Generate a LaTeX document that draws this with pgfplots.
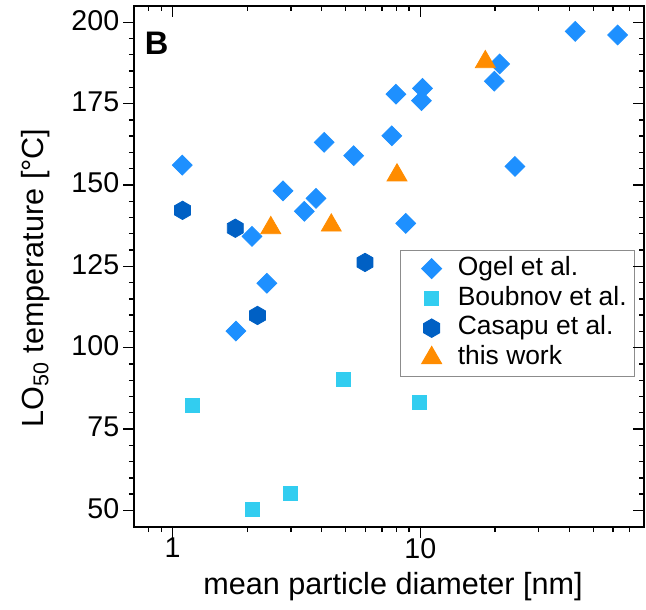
\documentclass[border=0pt]{standalone}
\usepackage{fontspec}
\setmainfont{Liberation Sans}
\usepackage{pgfplots}
\pgfplotsset{compat=1.18}
\definecolor{ogel}{RGB}{30,144,255}
\definecolor{boub}{RGB}{50,205,240}
\definecolor{casa}{RGB}{0,96,196}
\definecolor{twork}{RGB}{255,140,0}
\pgfdeclareplotmark{hexagon*}{%
 \pgfpathmoveto{\pgfqpointpolar{90}{\pgfplotmarksize}}%
 \pgfpathlineto{\pgfqpointpolar{150}{\pgfplotmarksize}}%
 \pgfpathlineto{\pgfqpointpolar{210}{\pgfplotmarksize}}%
 \pgfpathlineto{\pgfqpointpolar{270}{\pgfplotmarksize}}%
 \pgfpathlineto{\pgfqpointpolar{330}{\pgfplotmarksize}}%
 \pgfpathlineto{\pgfqpointpolar{30}{\pgfplotmarksize}}%
 \pgfpathclose
 \pgfusepathqfillstroke}
\begin{document}
\begin{tikzpicture}
\begin{axis}[xmode=log, xmin=0.7, xmax=80, ymin=45, ymax=205,
  scale only axis, width=254.85pt, height=260.35pt,
  xtick={1,10}, minor xtick={0.8,0.9,2,3,4,5,6,7,8,9,20,30,40,50,60,70},
  ytick={50,75,...,200}, minor y tick num=4,
  major tick length=5.5pt, minor tick length=2.75pt,
  every tick/.append style={black, line width=0.7pt},
  axis line style={line width=1pt},
  tick align=outside, xtick pos=left, ytick pos=left,
  xticklabels={1,10},
  /pgf/number format/assume math mode=true,
  tick label style={font=\fontsize{14.3}{17}\selectfont},
  xticklabel style={anchor=north, inner sep=0pt},
  yticklabel style={anchor=east, inner xsep=1.9pt, inner ysep=0pt, yshift=1pt},
  label style={font=\fontsize{15.3}{18}\selectfont},
  xlabel={mean particle diameter [nm]},
  ylabel={LO\textsubscript{50} temperature [°C]},
  xlabel style={at={(rel axis cs:0.5076,-0.1312)}, anchor=base, inner sep=0pt},
  ylabel style={at={(rel axis cs:-0.1785,0.4776)}, anchor=base, inner sep=0pt},
  legend cell align=left,
  legend style={at={(rel axis cs:0.522,0.5314)}, anchor=north west,
    draw=black!45, line width=0.5pt, font=\fontsize{13.2}{15}\selectfont,
    inner xsep=4pt, inner ysep=1.6pt, row sep=0pt, column sep=1.7pt,
    nodes={inner xsep=0pt, inner ysep=1.15pt, text height=9.7pt, text depth=2.9pt},
    row 4/.style={nodes={text depth=5.4pt}}},
  legend image code/.code={\path (0pt,0pt) (22.3pt,0pt); \draw plot coordinates {(11.15pt,0pt)};},
]
\addplot[only marks, mark=square*, mark size=3.5pt, mark options={rotate=45}, color=ogel] coordinates {
(1.093,156.1) (42.2,197.2) (62.6,196.1) (20.9,187.2) (19.9,181.9)
(7.97,177.9) (10.2,179.7) (10.1,175.9) (7.67,165.1) (4.09,163.1)
(5.38,159.0) (24.1,155.7) (2.79,148.2) (3.79,145.9) (3.40,141.9)
(8.73,138.2) (2.09,134.2) (2.40,119.8) (1.80,105.1)};
\addlegendentry{Ogel et al.}
\addplot[only marks, mark=square*, mark size=3.5pt, color=boub] coordinates {
(1.20,82.2) (4.89,90.2) (9.93,83.1) (2.99,55.1) (2.09,50.2)};
\addlegendentry{Boubnov et al.}
\addplot[only marks, mark=hexagon*, mark size=4.6pt, color=casa] coordinates {
(1.096,142.2) (1.79,136.7) (5.98,126.2) (2.20,109.9)};
\addlegendentry{Casapu et al.}
\addplot[only marks, mark=triangle*, mark size=5.75pt, color=twork] coordinates {
(18.3,187.8) (8.05,153.0) (2.49,136.8) (4.37,137.6)};
\addlegendentry{this work}
\node[anchor=base west, inner sep=0pt, font=\bfseries\fontsize{16.3}{19}\selectfont] at (rel axis cs:0.0198,0.9059) {B};
\coordinate (bbsw) at (rel axis cs:-0.2635,-0.16);
\coordinate (bbne) at (rel axis cs:1.0039,1.0115);
\end{axis}
\begin{axis}[xmode=log, xmin=0.7, xmax=80, ymin=45, ymax=205,
  scale only axis, width=254.85pt, height=260.35pt,
  xtick={1,10}, minor xtick={0.8,0.9,2,3,4,5,6,7,8,9,20,30,40,50,60,70},
  ytick={50,75,...,200}, minor y tick num=4,
  major tick length=5.5pt, minor tick length=2.75pt,
  every tick/.append style={black, line width=0.7pt},
  tick align=inside, xtick pos=right, ytick pos=right,
  xticklabels={}, yticklabels={}, axis line style={draw=none}]
\end{axis}
\pgfresetboundingbox
\path[use as bounding box] (bbsw) rectangle (bbne);
\end{tikzpicture}
\end{document}
